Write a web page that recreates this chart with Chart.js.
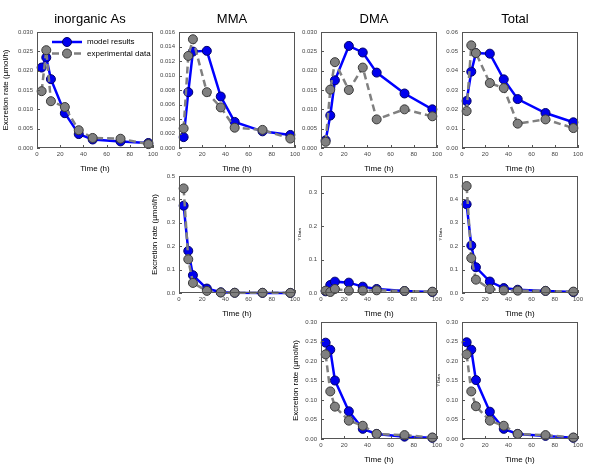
<!DOCTYPE html>
<html>
<head>
<meta charset="utf-8">
<script src="https://cdn.jsdelivr.net/npm/chart.js@4.4.1/dist/chart.umd.min.js"></script>
<style>
body { margin: 0; background: #fff; width: 600px; height: 466px; position: relative; overflow: hidden; }
canvas { position: absolute; }
</style>
</head>
<body>
<script>
var hours = [4, 8, 12, 24, 36, 48, 72, 96];
var timeTicks = [0, 20, 40, 60, 80, 100];

// row 1
var inorgModel = [0.0208, 0.0234, 0.0178, 0.0090, 0.0036, 0.0022, 0.0017, 0.0013];
var inorgExp   = [0.0147, 0.0253, 0.0121, 0.0106, 0.0046, 0.0026, 0.0024, 0.0010];
var mmaModel   = [0.0015, 0.0077, 0.0133, 0.0134, 0.0071, 0.0036, 0.0023, 0.0018];
var mmaExp     = [0.0027, 0.0127, 0.0150, 0.0077, 0.0056, 0.0028, 0.0025, 0.0013];
var dmaModel   = [0.0020, 0.0084, 0.0175, 0.0264, 0.0247, 0.0195, 0.0141, 0.0100];
var dmaExp     = [0.0016, 0.0151, 0.0222, 0.0150, 0.0208, 0.0074, 0.0100, 0.0082];
var totalModel = [0.0243, 0.0395, 0.0491, 0.0488, 0.0355, 0.0253, 0.0181, 0.0133];
var totalExp   = [0.0191, 0.0531, 0.0491, 0.0336, 0.0310, 0.0126, 0.0148, 0.0103];

// row 2
var mma2Model   = [0.373, 0.180, 0.076, 0.019, 0.003, 0.001, 0.0005, 0.0003];
var mma2Exp     = [0.447, 0.144, 0.043, 0.009, 0.002, 0.001, 0.001, 0.0005];
var dma2Model   = [0.005, 0.024, 0.034, 0.031, 0.019, 0.012, 0.006, 0.003];
var dma2Exp     = [0.007, 0.003, 0.012, 0.007, 0.007, 0.008, 0.006, 0.004];
var total2Model = [0.379, 0.203, 0.110, 0.049, 0.021, 0.014, 0.009, 0.004];
var total2Exp   = [0.457, 0.149, 0.057, 0.017, 0.011, 0.010, 0.009, 0.006];

// row 3
var dma3Model   = [0.247, 0.229, 0.150, 0.071, 0.026, 0.013, 0.006, 0.003];
var dma3Exp     = [0.217, 0.122, 0.083, 0.047, 0.034, 0.013, 0.010, 0.004];
var total3Model = [0.248, 0.229, 0.151, 0.070, 0.026, 0.013, 0.008, 0.003];
var total3Exp   = [0.217, 0.122, 0.084, 0.047, 0.034, 0.013, 0.010, 0.004];

// y tick values
var ticks030 = [0, 0.005, 0.010, 0.015, 0.020, 0.025, 0.030];
var ticks016 = [0, 0.002, 0.004, 0.006, 0.008, 0.010, 0.012, 0.014, 0.016];
var ticks06  = [0, 0.01, 0.02, 0.03, 0.04, 0.05, 0.06];
var ticks05  = [0, 0.1, 0.2, 0.3, 0.4, 0.5];
var ticks035 = [0, 0.1, 0.2, 0.3];
var ticks30  = [0, 0.05, 0.10, 0.15, 0.20, 0.25, 0.30];

var seriesLabels = ['model results', 'experimental data'];
var yTitle = 'Excretion rate (\u00b5mol/h)';

var FONT = 'Arial, "Liberation Sans", sans-serif';
var Y_W = 37, X_H = 28, PAD_R = 8;

function pts(ys) {
    return hours.map(function (h, i) { return { x: h, y: ys[i] }; });
}

// box, inner ticks, title and legend
var panelDeco = {
    id: 'panelDeco',
    afterDraw: function (chart) {
        var ctx = chart.ctx, a = chart.chartArea, o = chart.options.plugins.panelDeco;
        ctx.save();
        ctx.strokeStyle = '#555';
        ctx.lineWidth = 1;
        ctx.strokeRect(Math.round(a.left) + 0.5, Math.round(a.top) + 0.5,
            Math.round(a.right - a.left) - 1, Math.round(a.bottom - a.top) - 1);
        ctx.beginPath();
        chart.scales.x.ticks.forEach(function (t) {
            var px = Math.round(chart.scales.x.getPixelForValue(t.value)) + 0.5;
            ctx.moveTo(px, a.bottom); ctx.lineTo(px, a.bottom - 3);
        });
        chart.scales.y.ticks.forEach(function (t) {
            var py = Math.round(chart.scales.y.getPixelForValue(t.value)) + 0.5;
            ctx.moveTo(a.left, py); ctx.lineTo(a.left + 3, py);
        });
        ctx.stroke();

        if (o.title) {
            ctx.fillStyle = '#000';
            ctx.font = '13px ' + FONT;
            ctx.textAlign = 'center';
            ctx.textBaseline = 'middle';
            ctx.fillText(o.title, (a.left + a.right) / 2 - 5, a.top - 13);
        }
        if (o.legend) {
            var ds = chart.data.datasets;
            [0, 1].forEach(function (k) {
                var d = ds[k];
                var y = a.top + 10 + k * 11.5;
                ctx.strokeStyle = d.borderColor;
                ctx.lineWidth = d.borderWidth;
                ctx.setLineDash(d.borderDash || []);
                ctx.beginPath();
                ctx.moveTo(a.left + 15, y); ctx.lineTo(a.left + 45, y);
                ctx.stroke();
                ctx.setLineDash([]);
                ctx.beginPath();
                ctx.arc(a.left + 30, y, d.pointRadius, 0, Math.PI * 2);
                ctx.fillStyle = d.pointBackgroundColor;
                ctx.fill();
                ctx.lineWidth = 1;
                ctx.strokeStyle = d.pointBorderColor;
                ctx.stroke();
                ctx.fillStyle = '#000';
                ctx.font = '8px ' + FONT;
                ctx.textAlign = 'left';
                ctx.textBaseline = 'middle';
                ctx.fillText(d.label, a.left + 50, y);
            });
        }
        ctx.restore();
    }
};

function panel(p) {
    var topPad = p.title ? 32 : 10;
    var cv = document.createElement('canvas');
    var w = Y_W + 116 + PAD_R, h = topPad + p.h + X_H;
    cv.width = w; cv.height = h;
    cv.style.left = (p.left - Y_W) + 'px';
    cv.style.top = (p.top - topPad) + 'px';
    cv.style.width = w + 'px';
    cv.style.height = h + 'px';
    document.body.appendChild(cv);

    var yt = p.yTitle || '';
    new Chart(cv, {
        type: 'line',
        data: {
            datasets: [{
                label: seriesLabels[0],
                data: pts(p.model),
                borderColor: '#0000ff',
                borderWidth: 2.5,
                pointRadius: 4.5,
                pointBackgroundColor: '#0000ee',
                pointBorderColor: '#00006a',
                pointBorderWidth: 1,
                tension: 0,
                clip: false,
                order: 1
            }, {
                label: seriesLabels[1],
                data: pts(p.exp),
                borderColor: '#808080',
                borderWidth: 2.5,
                borderDash: [7, 4],
                pointRadius: 4.5,
                pointBackgroundColor: '#808080',
                pointBorderColor: '#3a3a3a',
                pointBorderWidth: 1,
                tension: 0,
                clip: false,
                order: 0
            }]
        },
        options: {
            responsive: false,
            animation: false,
            events: [],
            layout: { padding: { top: topPad, right: PAD_R, left: 0, bottom: 0 } },
            plugins: {
                legend: { display: false },
                tooltip: { enabled: false },
                panelDeco: { title: p.title, legend: p.legend }
            },
            scales: {
                x: {
                    type: 'linear',
                    min: 0, max: 100,
                    afterBuildTicks: function (s) { s.ticks = timeTicks.map(function (v) { return { value: v }; }); },
                    afterFit: function (s) { s.height = X_H; },
                    grid: { display: false, drawTicks: false },
                    border: { display: false },
                    ticks: { color: '#444', font: { size: 6, family: FONT }, padding: 3, maxRotation: 0,
                        callback: function (v) { return String(v); } },
                    title: { display: true, text: 'Time (h)', color: '#000',
                        font: { size: 8, family: FONT }, padding: { top: 0, bottom: 2 } }
                },
                y: {
                    type: 'linear',
                    min: 0, max: p.yMax,
                    afterBuildTicks: function (s) { s.ticks = p.yTicks.map(function (v) { return { value: v }; }); },
                    afterFit: function (s) { s.width = Y_W; },
                    grid: { display: false, drawTicks: false },
                    border: { display: false },
                    ticks: { color: '#444', font: { size: 6, family: FONT }, padding: 4,
                        callback: function (v) { return Number(v).toFixed(p.dec); } },
                    title: { display: yt !== '', text: yt, color: '#000',
                        font: { size: p.yTitleSize || 8, family: FONT },
                        padding: { top: p.yTitlePad || 1, bottom: 0 } }
                }
            }
        },
        plugins: [panelDeco]
    });
}

var colL = [37, 179, 321, 462];

panel({ left: colL[0], top: 32, h: 116, title: 'inorganic As', legend: true, model: inorgModel, exp: inorgExp,
    yMax: 0.030, yTicks: ticks030, dec: 3, yTitle: yTitle, yTitlePad: 1.2 });
panel({ left: colL[1], top: 32, h: 116, title: 'MMA', model: mmaModel, exp: mmaExp,
    yMax: 0.016, yTicks: ticks016, dec: 3 });
panel({ left: colL[2], top: 32, h: 116, title: 'DMA', model: dmaModel, exp: dmaExp,
    yMax: 0.030, yTicks: ticks030, dec: 3 });
panel({ left: colL[3], top: 32, h: 116, title: 'Total', model: totalModel, exp: totalExp,
    yMax: 0.06, yTicks: ticks06, dec: 2 });

panel({ left: colL[1], top: 176, h: 117, model: mma2Model, exp: mma2Exp,
    yMax: 0.5, yTicks: ticks05, dec: 1, yTitle: yTitle, yTitlePad: 8.2 });
panel({ left: colL[2], top: 176, h: 117, model: dma2Model, exp: dma2Exp,
    yMax: 0.35, yTicks: ticks035, dec: 1, yTitle: 'Y Data', yTitleSize: 4, yTitlePad: 13.6 });
panel({ left: colL[3], top: 176, h: 117, model: total2Model, exp: total2Exp,
    yMax: 0.5, yTicks: ticks05, dec: 1, yTitle: 'Y Data', yTitleSize: 4, yTitlePad: 13.6 });

panel({ left: colL[2], top: 322, h: 117, model: dma3Model, exp: dma3Exp,
    yMax: 0.30, yTicks: ticks30, dec: 2, yTitle: yTitle, yTitlePad: 7.2 });
panel({ left: colL[3], top: 322, h: 117, model: total3Model, exp: total3Exp,
    yMax: 0.30, yTicks: ticks30, dec: 2, yTitle: 'Y Data', yTitleSize: 4, yTitlePad: 11.6 });
</script>
</body>
</html>
